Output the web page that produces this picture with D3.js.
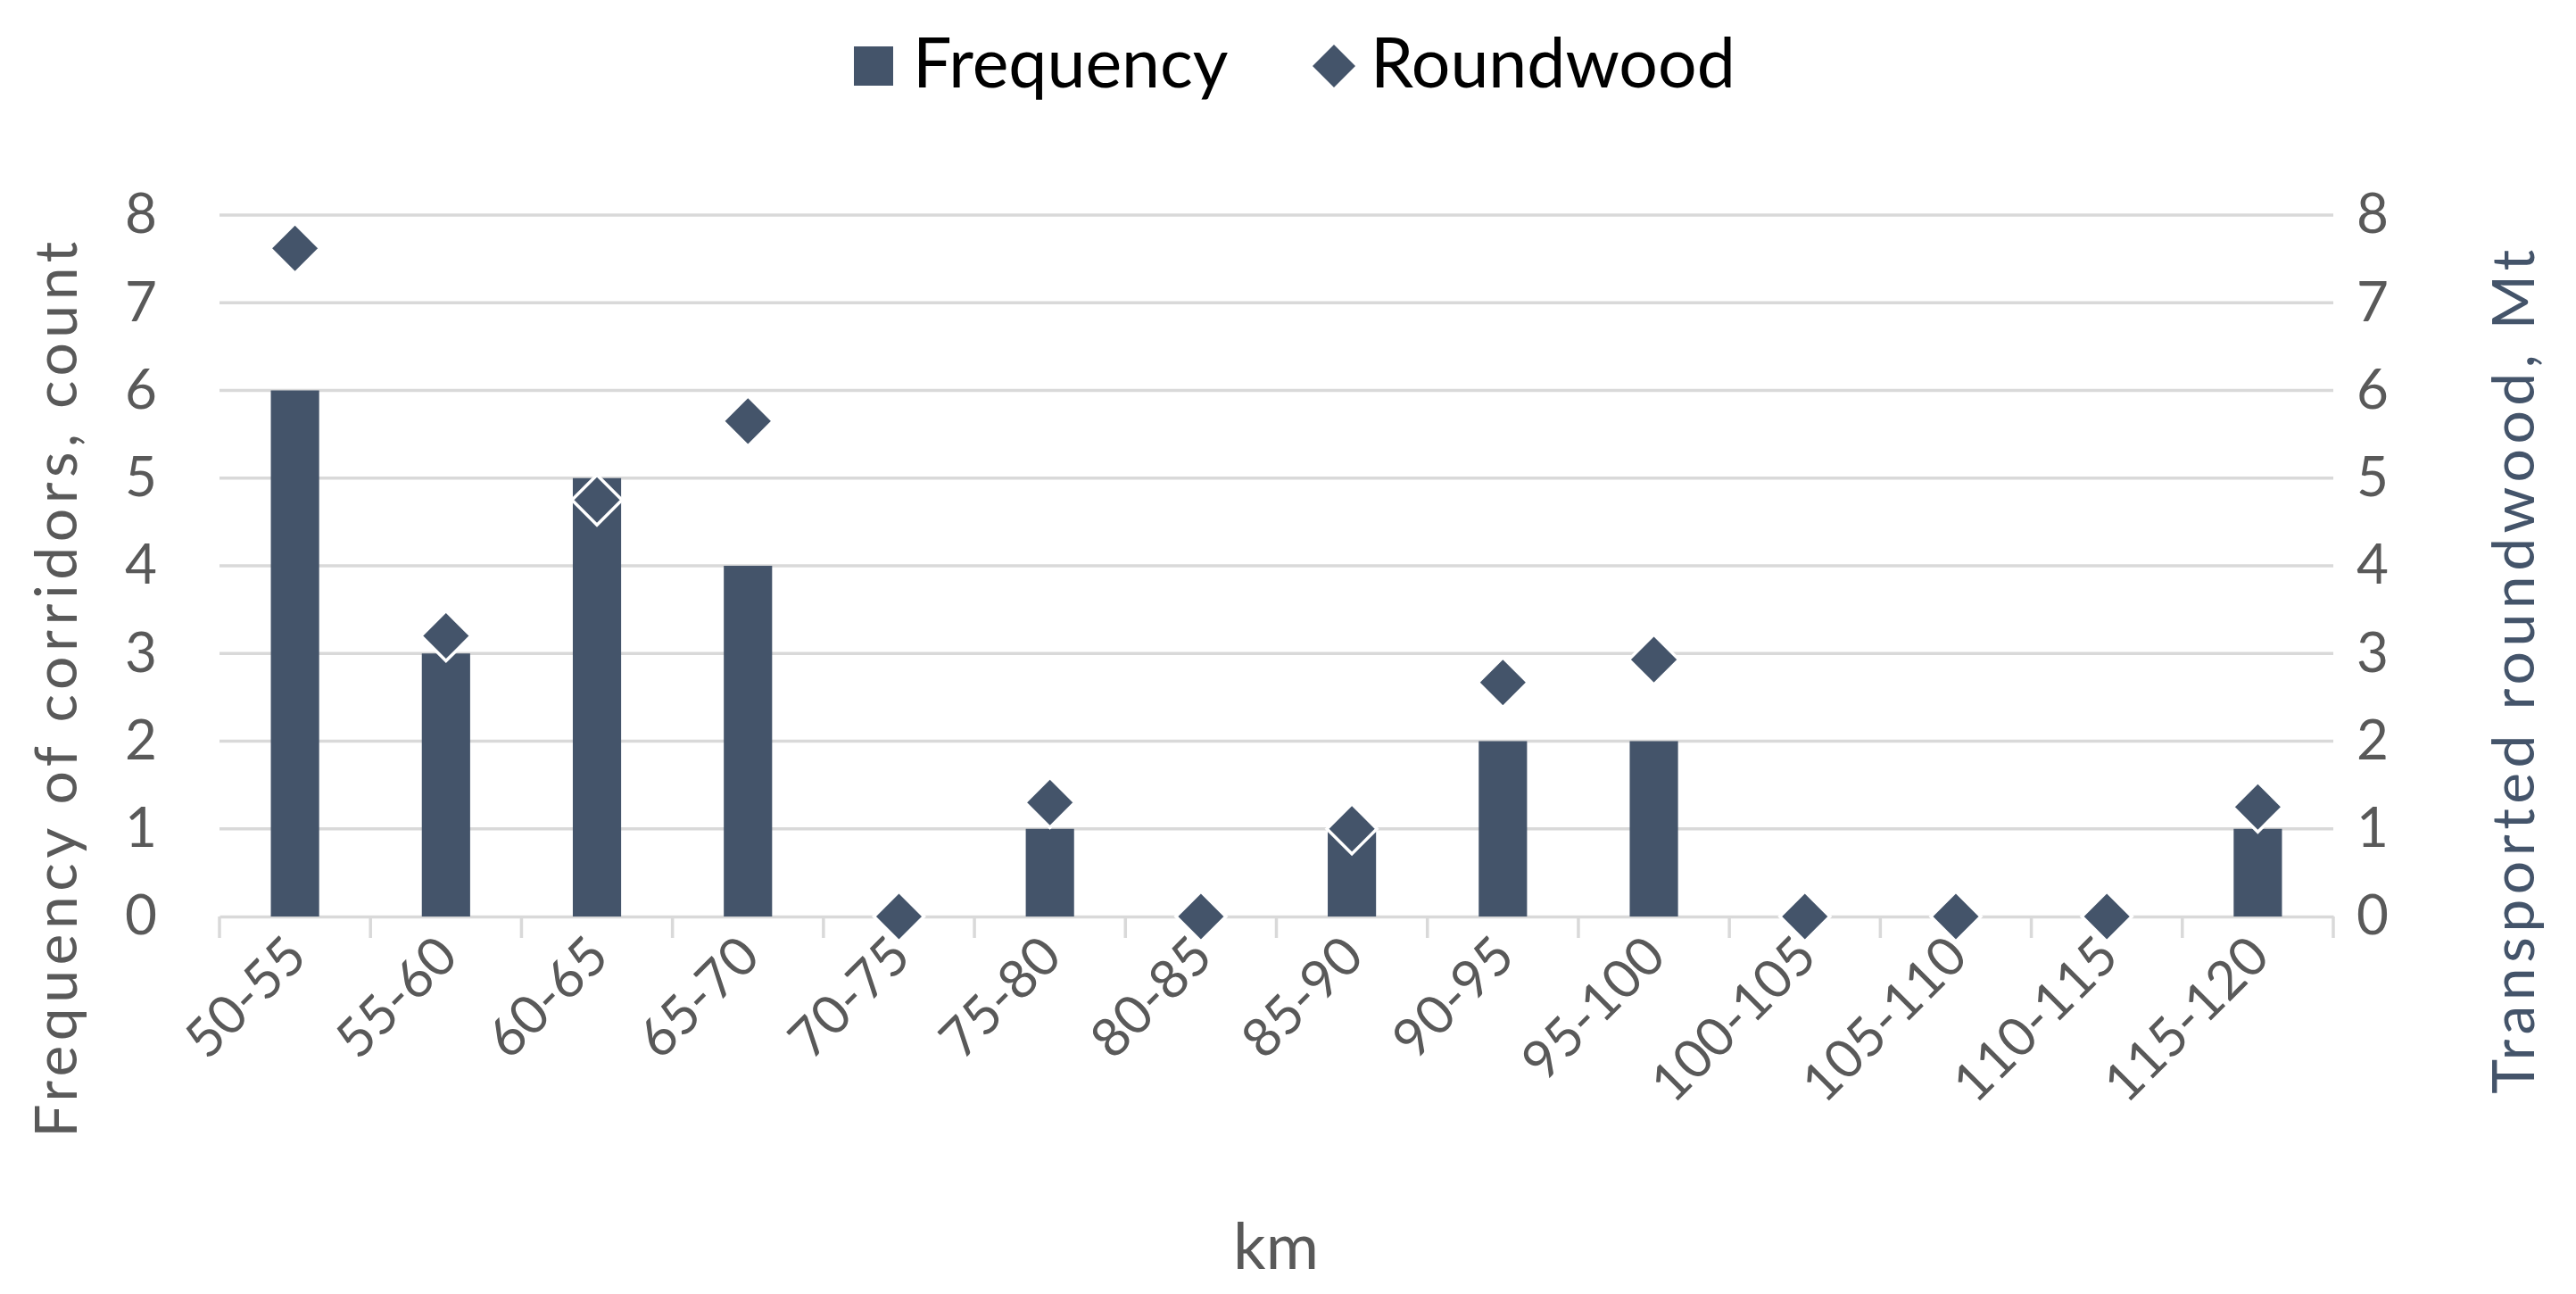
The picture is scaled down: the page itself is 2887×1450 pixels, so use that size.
<!DOCTYPE html>
<html><head><meta charset="utf-8">
<script src="https://cdn.jsdelivr.net/npm/d3@7"></script>
<style>body{margin:0;background:#fff}svg{display:block}</style>
</head><body>
<script>
const categories = ["50-55","55-60","60-65","65-70","70-75","75-80","80-85","85-90","90-95","95-100","100-105","105-110","110-115","115-120"];
const frequency = [6,3,5,4,0,1,0,1,2,2,0,0,0,1];
const roundwood = [7.62,3.2,4.75,5.65,0,1.3,0,1.0,2.67,2.93,0,0,0,1.25];
const yTicks = [0,1,2,3,4,5,6,7,8];

const W=2887,H=1450, L=246, R=2615, T=241, B=1027;
const font="Lato, 'Open Sans', sans-serif";
const bar="#44546a", txt="#595959", grid="#d9d9d9";
const svg=d3.select("body").append("svg").attr("width",W).attr("height",H).style("font-family",font);

const x=d3.scaleBand().domain(categories).range([L,R]);
const y=d3.scaleLinear().domain([0,8]).range([B,T]);
const y2=d3.scaleLinear().domain([0,8]).range([B,T]);

svg.append("g").selectAll("line").data(yTicks.filter(d=>d>0)).join("line")
  .attr("x1",L).attr("x2",R).attr("y1",d=>y(d)).attr("y2",d=>y(d))
  .attr("stroke",grid).attr("stroke-width",3.5);

const xa=svg.append("g").attr("transform",`translate(0,${B})`)
  .call(d3.axisBottom(x).tickSize(0).tickFormat(""));
xa.select(".domain").attr("stroke",grid).attr("stroke-width",3.5);
svg.append("g").selectAll("line").data(d3.range(categories.length+1)).join("line")
  .attr("x1",i=>L+i*x.step()).attr("x2",i=>L+i*x.step()).attr("y1",B).attr("y2",B+24)
  .attr("stroke",grid).attr("stroke-width",3.5);

const bw=x.bandwidth()*0.32;
svg.append("g").selectAll("rect").data(frequency).join("rect")
  .attr("x",(d,i)=>x(categories[i])+x.bandwidth()/2-bw/2).attr("width",bw)
  .attr("y",d=>y(d)).attr("height",d=>B-y(d)).attr("fill",bar);

const dia=(cx,cy,r)=>`M${cx},${cy-r}L${cx+r},${cy}L${cx},${cy+r}L${cx-r},${cy}Z`;
svg.append("g").selectAll("path").data(roundwood).join("path")
  .attr("d",(d,i)=>dia(x(categories[i])+x.bandwidth()/2,y2(d),28))
  .attr("fill",bar).attr("stroke","#fff").attr("stroke-width",3.5);

const ya=svg.append("g").attr("transform",`translate(${L},0)`)
  .call(d3.axisLeft(y).tickValues(yTicks).tickSize(0).tickPadding(70).tickFormat(d3.format("d")));
ya.select(".domain").remove();
ya.selectAll("text").attr("font-size",62).attr("fill",txt).attr("font-family",font);
const yb=svg.append("g").attr("transform",`translate(${R},0)`)
  .call(d3.axisRight(y2).tickValues(yTicks).tickSize(0).tickPadding(26).tickFormat(d3.format("d")));
yb.select(".domain").remove();
yb.selectAll("text").attr("font-size",62).attr("fill",txt).attr("font-family",font);

svg.append("g").selectAll("text").data(categories).join("text")
  .attr("transform",d=>`translate(${x(d)+x.bandwidth()/2+16},${B+48}) rotate(-45)`)
  .attr("text-anchor","end").attr("font-size",60).attr("fill",txt).text(d=>d);

svg.append("text").attr("transform",`translate(86,${770}) rotate(-90)`)
  .attr("text-anchor","middle").attr("font-size",66).attr("letter-spacing",5.5).attr("fill",txt).text("Frequency of corridors, count");
svg.append("text").attr("transform",`translate(2840,${warn=750}) rotate(-90)`)
  .attr("text-anchor","middle").attr("font-size",66).attr("letter-spacing",5.5).attr("fill",bar).text("Transported roundwood, Mt");
svg.append("text").attr("x",1430).attr("y",1422).attr("text-anchor","middle")
  .attr("font-size",72).attr("fill",txt).text("km");

svg.append("rect").attr("x",957).attr("y",52).attr("width",44).attr("height",44).attr("fill",bar);
svg.append("text").attr("x",1023).attr("y",98).attr("font-size",77).attr("fill","#000").text("Frequency");
svg.append("path").attr("d",dia(1495,74,24)).attr("fill",bar);
svg.append("text").attr("x",1536).attr("y",98).attr("font-size",77).attr("fill","#000").text("Roundwood");
</script>
</body></html>
